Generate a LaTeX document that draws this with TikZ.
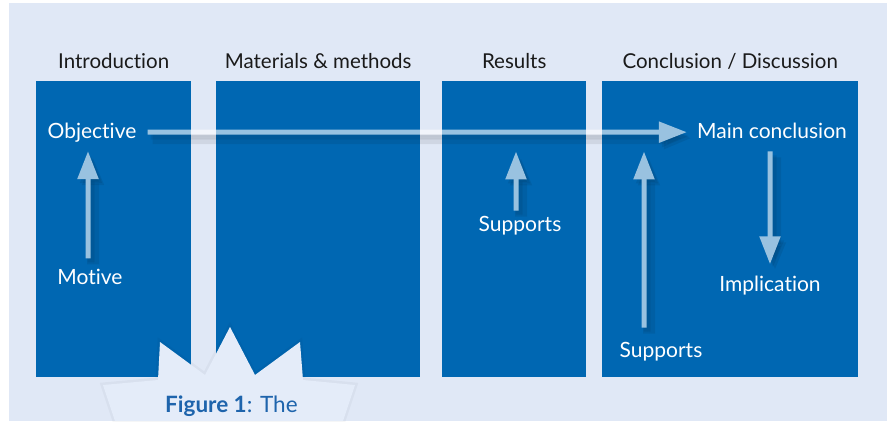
\documentclass[tikz,border=0pt]{standalone}
\usepackage{fontspec}
\setmainfont[Ligatures=NoCommon]{Lato}
\usetikzlibrary{arrows.meta, positioning, calc}

\definecolor{pagebg}{RGB}{224,232,246}
\definecolor{burstbg}{RGB}{228,236,249}
\definecolor{colblue}{RGB}{0,103,178}
\definecolor{capblue}{RGB}{30,100,172}
\definecolor{headtext}{RGB}{26,26,26}

\begin{document}
\begin{tikzpicture}[
        x = 1pt, y = -1pt,
        > = {Triangle[width=20pt,length=28pt]},
        column/.style = {
            rectangle,
            fill = colblue,
            anchor = north west,
            minimum height = 296pt,
            inner sep = 0pt
        },
        heading/.style = {
            font = \fontsize{20.5}{24}\selectfont,
            text = headtext,
            inner sep = 0pt
        },
        boxtext/.style = {
            font = \fontsize{21}{24}\selectfont,
            text = white,
            inner sep = 0pt,
            anchor = base
        },
        flow/.style = {
            ->,
            line width = 5pt,
            draw = white,
            fill = white,
            preaction = {draw = black, fill = black, opacity = 0.12, line width = 12pt,
                transform canvas = {xshift=5pt, yshift=-6pt}},
            preaction = {draw = black, fill = black, opacity = 0.12, line width = 7pt,
                transform canvas = {xshift=3pt, yshift=-4pt}}
        }
    ]

        \useasboundingbox (0,0) rectangle (887,421);
        \fill[pagebg] (9,3) rectangle (887,421);

        \node[column, minimum width = 155pt] (intro) at (36,81) {};
        \node[column, minimum width = 204pt] (methods) at (216,81) {};
        \node[column, minimum width = 144pt] (results) at (442,81) {};
        \node[column, minimum width = 256pt] (concl) at (602,81) {};

        \node[heading, above=13pt of intro.north, anchor=base] (introhead) {Introduction};
        \node[heading, above=13pt of methods.north, anchor=base] (methodshead) {Materials \& methods};
        \node[heading, above=13pt of results.north, anchor=base] (resultshead) {Results};
        \node[heading, above=13pt of concl.north, anchor=base] (conclhead) {Conclusion / Discussion};

        \node[boxtext] (objective) at (92,138) {Objective};
        \node[boxtext] (motive) at (90,284) {Motive};
        \node[boxtext] (mainconc) at (772,138) {Main conclusion};
        \node[boxtext] (implication) at (770,291) {Implication};
        \node[boxtext] (supportsres) at (520,231) {Supports};
        \node[boxtext] (supportsconc) at (661,357) {Supports};

        \begin{scope}[transparency group, opacity=0.6]
            \draw[flow, shorten <=11pt, shorten >=10pt]
                (objective.east) -- (objective.east -| mainconc.west);
            \draw[flow, shorten <=10pt, shorten >=9pt]
                ([xshift=-2pt]motive.north) -- ([xshift=-2pt]motive.north |- objective.south);
            \draw[flow, shorten <=5pt, shorten >=13pt]
                ([xshift=-4pt]supportsres.north) -- ([xshift=-4pt]supportsres.north |- mainconc.south);
            \draw[flow, shorten <=14pt, shorten >=13pt]
                ([xshift=-17pt]supportsconc.north) -- ([xshift=-17pt]supportsconc.north |- mainconc.south);
            \draw[flow, shorten <=13pt, shorten >=11pt]
                (implication.north |- mainconc.south) -- (implication.north);
        \end{scope}

        \fill[burstbg, preaction={draw=black, opacity=0.03, line width=5pt}]
            (115,421) -- (103,385) -- (158,380) -- (160,342) -- (205,375) -- (230,327)
            -- (255,375) -- (300,342) -- (303,380) -- (355,385) -- (343,421) -- cycle;
        \node[anchor=base west, inner sep=0pt, text=capblue, font=\fontsize{22.5}{26}\selectfont]
            (caption) at (165,412) {\textbf{Figure 1}: The};

    \end{tikzpicture}
\end{document}
